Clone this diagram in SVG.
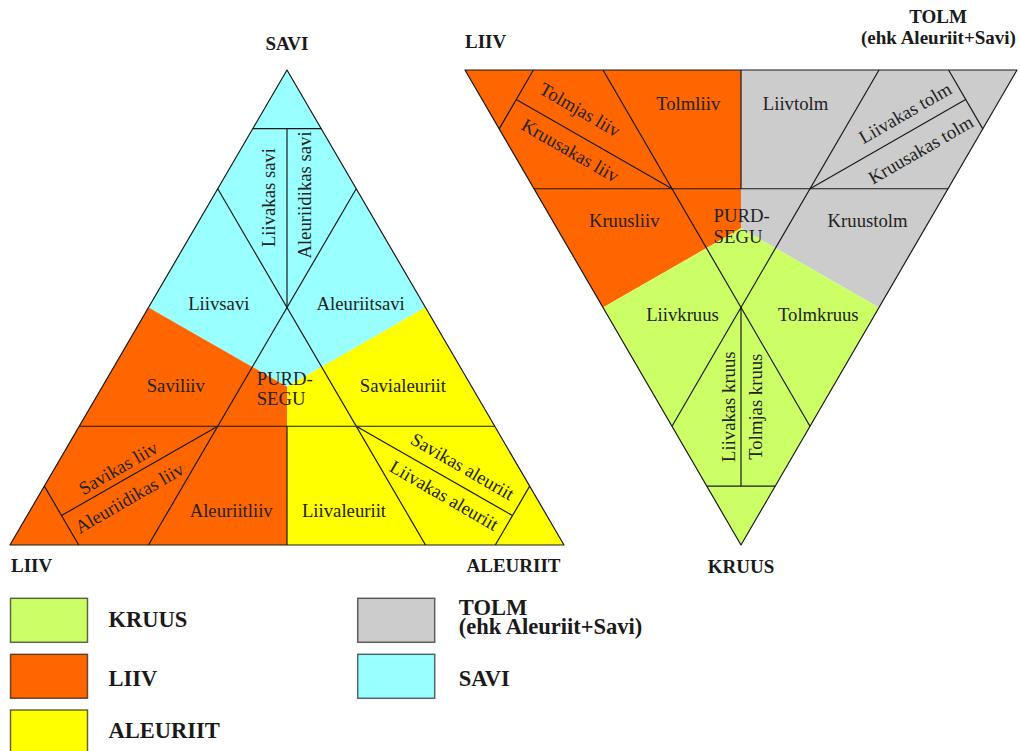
<svg xmlns="http://www.w3.org/2000/svg" width="1020" height="751" viewBox="0 0 1020 751">
<style>
.ln{fill:none;stroke:#1a1a1a;stroke-width:1.2;stroke-linejoin:round}
.t{font-family:"Liberation Serif","Times New Roman",serif;font-size:18.7px;fill:#222}
.m{text-anchor:middle}
.hd{font-family:"Liberation Serif","Times New Roman",serif;font-size:19px;font-weight:bold;fill:#1a1a1a}
.lg{font-family:"Liberation Serif","Times New Roman",serif;font-size:22.5px;font-weight:bold;fill:#1a1a1a}
.box{stroke:#000;stroke-opacity:0.6;stroke-width:1.5}
.kr{fill:#CCFF66}.li{fill:#FF6600}.al{fill:#FFFF00}.to{fill:#CCCCCC}.sa{fill:#99FFFF}
</style>
<rect width="1020" height="751" fill="#fff"/>

<!-- Left triangle: colour regions -->
<g id="left-triangle">
  <path class="sa" d="M287,70 L148.5,307.5 L287,386.67 L425.5,307.5 Z"/>
  <path class="li" d="M10,545 L148.5,307.5 L287,386.67 L287,545 Z"/>
  <path class="al" d="M564,545 L425.5,307.5 L287,386.67 L287,545 Z"/>
</g>

<!-- Right triangle: colour regions -->
<g id="right-triangle">
  <path class="li" d="M465,70 L741,70 L741,228.33 L603,307.5 Z"/>
  <path class="to" d="M1017,70 L741,70 L741,228.33 L879,307.5 Z"/>
  <path class="kr" d="M741,545 L603,307.5 L741,228.33 L879,307.5 Z"/>
</g>

<!-- Division lines -->
<g id="connectors">
  <polygon class="ln" points="287,70 10,545 564,545"/>
  <path class="ln" d="M252.7,128.6 H321.3"/>
  <path class="ln" d="M287,128.6 V307.5"/>
  <path class="ln" d="M79.25,426.25 H494.75"/>
  <path class="ln" d="M287,426.25 V545"/>
  <path class="ln" d="M217.75,188.75 L425.5,545"/>
  <path class="ln" d="M356.25,188.75 L148.5,545"/>
  <path class="ln" d="M44.35,486.1 L78.7,545"/>
  <path class="ln" d="M529.7,486.1 L495.3,545"/>
  <path class="ln" d="M217.75,426.25 L61.5,515.55"/>
  <path class="ln" d="M356.25,426.25 L512.5,515.55"/>

  <polygon class="ln" points="465,70 1017,70 741,545"/>
  <path class="ln" d="M741,70 V188.75"/>
  <path class="ln" d="M534,188.75 H948"/>
  <path class="ln" d="M603,70 L810,426.25"/>
  <path class="ln" d="M879,70 L672,426.25"/>
  <path class="ln" d="M741,307.5 V486.1"/>
  <path class="ln" d="M706.8,486.1 H775.2"/>
  <path class="ln" d="M533.4,70 L499.2,128.9"/>
  <path class="ln" d="M948.6,70 L982.8,128.9"/>
  <path class="ln" d="M672,188.75 L516.3,99.45"/>
  <path class="ln" d="M810,188.75 L965.6,99.45"/>
</g>

<!-- Left triangle labels -->
<g id="lt-savi"><text class="hd m" x="287" y="50">SAVI</text></g>
<g id="lt-liiv"><text class="hd" x="11" y="572">LIIV</text></g>
<g id="lt-aleuriit"><text class="hd" x="560.5" y="572" text-anchor="end">ALEURIIT</text></g>
<g id="liivakas-savi"><text class="t m" transform="translate(275,197.5) rotate(-90)">Liivakas savi</text></g>
<g id="aleuriidikas-savi"><text class="t m" transform="translate(311,195) rotate(-90)">Aleuriidikas savi</text></g>
<g id="liivsavi"><text class="t m" x="218.8" y="310">Liivsavi</text></g>
<g id="aleuriitsavi"><text class="t m" x="360.7" y="310">Aleuriitsavi</text></g>
<g id="saviliiv"><text class="t m" x="175.8" y="391.5">Saviliiv</text></g>
<g id="purdsegu-left"><text class="t" x="256.7" y="385">PURD-</text><text class="t" x="256.7" y="405">SEGU</text></g>
<g id="savialeuriit"><text class="t m" x="402.9" y="391.5">Savialeuriit</text></g>
<g id="savikas-liiv"><text class="t m" transform="translate(121.4,473.5) rotate(-30)">Savikas liiv</text></g>
<g id="aleuriidikas-liiv"><text class="t m" transform="translate(132.5,503.5) rotate(-30)">Aleuriidikas liiv</text></g>
<g id="aleuriitliiv"><text class="t m" x="231.2" y="516.5">Aleuriitliiv</text></g>
<g id="liivaleuriit"><text class="t m" x="344" y="516.5">Liivaleuriit</text></g>
<g id="savikas-aleuriit"><text class="t m" transform="translate(459.4,471.9) rotate(30)">Savikas aleuriit</text></g>
<g id="liivakas-aleuriit"><text class="t m" transform="translate(441,500.9) rotate(30)">Liivakas aleuriit</text></g>

<!-- Right triangle labels -->
<g id="rt-liiv"><text class="hd" x="465" y="48">LIIV</text></g>
<g id="rt-tolm"><text class="hd m" x="938" y="23">TOLM</text><text class="hd m" x="938.5" y="43.5">(ehk Aleuriit+Savi)</text></g>
<g id="rt-kruus"><text class="hd m" x="741" y="573">KRUUS</text></g>
<g id="tolmjas-liiv"><text class="t m" transform="translate(576.8,115.2) rotate(30)">Tolmjas liiv</text></g>
<g id="kruusakas-liiv"><text class="t m" transform="translate(567,155.9) rotate(30)">Kruusakas liiv</text></g>
<g id="tolmliiv"><text class="t m" x="688.2" y="110">Tolmliiv</text></g>
<g id="liivtolm"><text class="t m" x="795.5" y="110">Liivtolm</text></g>
<g id="liivakas-tolm"><text class="t m" transform="translate(908.3,118.5) rotate(-30)">Liivakas tolm</text></g>
<g id="kruusakas-tolm"><text class="t m" transform="translate(923.9,155.2) rotate(-30)">Kruusakas tolm</text></g>
<g id="kruusliiv"><text class="t m" x="624.2" y="226.7">Kruusliiv</text></g>
<g id="purdsegu-right"><text class="t" x="713.6" y="221.7">PURD-</text><text class="t" x="713.6" y="243.3">SEGU</text></g>
<g id="kruustolm"><text class="t m" x="867.6" y="226.7">Kruustolm</text></g>
<g id="liivkruus"><text class="t m" x="682.5" y="320.5">Liivkruus</text></g>
<g id="tolmkruus"><text class="t m" x="818.3" y="320.5">Tolmkruus</text></g>
<g id="liivakas-kruus"><text class="t m" transform="translate(735,406.7) rotate(-90)">Liivakas kruus</text></g>
<g id="tolmjas-kruus"><text class="t m" transform="translate(762,406.7) rotate(-90)">Tolmjas kruus</text></g>

<!-- Legend -->
<g id="legend-kruus"><rect class="box kr" x="10.5" y="598.3" width="77" height="44"/><text class="lg" x="108.6" y="626.7">KRUUS</text></g>
<g id="legend-liiv"><rect class="box li" x="10.5" y="654.3" width="77" height="44"/><text class="lg" x="108.6" y="686">LIIV</text></g>
<g id="legend-aleuriit"><rect class="box al" x="10.5" y="710" width="77" height="44"/><text class="lg" x="108.6" y="738">ALEURIIT</text></g>
<g id="legend-tolm"><rect class="box to" x="357.7" y="598.3" width="77" height="44"/><text class="lg" x="458.8" y="615">TOLM</text><text class="lg" x="458.8" y="634">(ehk Aleuriit+Savi)</text></g>
<g id="legend-savi"><rect class="box sa" x="357.7" y="654.3" width="77" height="44"/><text class="lg" x="458.8" y="686">SAVI</text></g>
</svg>
